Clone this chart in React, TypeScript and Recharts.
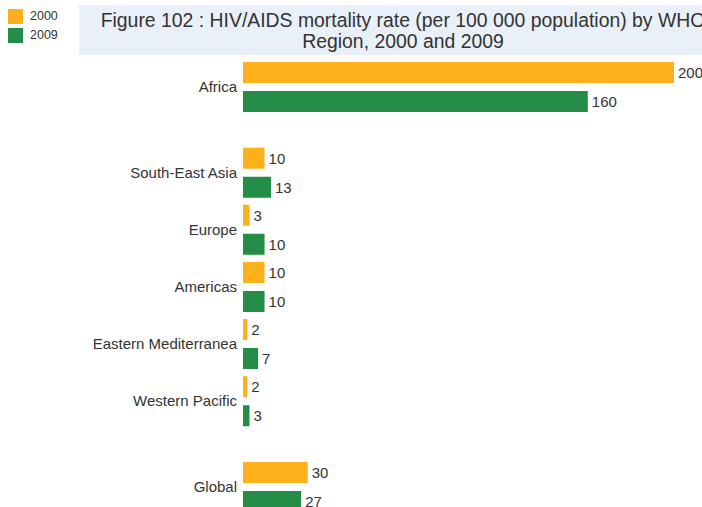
import React from "react";
import { BarChart, Bar, XAxis, YAxis, LabelList } from "recharts";

const regions = ["Africa", "South-East Asia", "Europe", "Americas", "Eastern Mediterranea", "Western Pacific", "Global"];
// group index: regions in the same group sit next to each other, groups are separated by a half-row gap
const groups = [0, 1, 1, 1, 1, 1, 2];
const values2000 = [200, 10, 3, 10, 2, 2, 30];
const values2009 = [160, 13, 10, 10, 7, 3, 27];
const seriesNames = ["2000", "2009"];
const titleLines = ["Figure 102 : HIV/AIDS mortality rate (per 100 000 population) by WHO", "Region, 2000 and 2009"];

const COLORS = ["#FBB01C", "#238D47"];
const FONT = "'Liberation Sans', Arial, sans-serif";
const TEXT = "#333333";

const data = regions.map((name, i) => ({
  name,
  pos: i + 0.5 * groups[i],
  y2000: values2000[i],
  y2009: values2009[i],
}));
const ticks = data.map((d) => d.pos);
const posToName = (p: number) => {
  const d = data.find((x) => Math.abs(x.pos - p) < 1e-6);
  return d ? d.name : "";
};

export default function App() {
  return (
    <div style={{ position: "absolute", left: 0, top: 0, width: 702, height: 507, overflow: "hidden", background: "#fff" }}>
      <div
        style={{
          position: "absolute",
          left: 79,
          top: 5,
          width: 648,
          height: 50,
          background: "#EAF0F9",
          fontFamily: FONT,
          fontSize: 19.4,
          lineHeight: "21px",
          color: TEXT,
          textAlign: "center",
          paddingTop: 5,
          boxSizing: "border-box",
          whiteSpace: "nowrap",
        }}
      >
        {titleLines.map((l) => (
          <div key={l}>{l}</div>
        ))}
      </div>
      <div style={{ position: "absolute", left: 8, top: 6.5, fontFamily: FONT, fontSize: 12.5, color: TEXT }}>
        {seriesNames.map((s, i) => (
          <div key={s} style={{ display: "flex", alignItems: "center", height: 19 }}>
            <div style={{ width: 15, height: 15, background: COLORS[i], marginRight: 7 }} />
            <span>{s}</span>
          </div>
        ))}
      </div>
      <div style={{ position: "absolute", left: 0, top: 0 }}>
        <BarChart
          width={740}
          height={530}
          data={data}
          layout="vertical"
          margin={{ top: 58, right: 66, bottom: 15, left: 83 }}
          barGap={8}
        >
          <XAxis type="number" domain={[0, 200]} hide />
          <YAxis
            type="number"
            dataKey="pos"
            scale="linear"
            domain={[-0.5, 7.5]}
            allowDataOverflow
            ticks={ticks}
            interval={0}
            width={160}
            axisLine={false}
            tickLine={false}
            tickSize={0}
            tickMargin={6}
            tickFormatter={posToName}
            tick={{ fill: TEXT, fontSize: 15, fontFamily: FONT }}
          />
          <Bar dataKey="y2000" name={seriesNames[0]} fill={COLORS[0]} barSize={21} isAnimationActive={false}>
            <LabelList dataKey="y2000" position="right" offset={4} fill={TEXT} fontSize={15} fontFamily={FONT} />
          </Bar>
          <Bar dataKey="y2009" name={seriesNames[1]} fill={COLORS[1]} barSize={21} isAnimationActive={false}>
            <LabelList dataKey="y2009" position="right" offset={4} fill={TEXT} fontSize={15} fontFamily={FONT} />
          </Bar>
        </BarChart>
      </div>
    </div>
  );
}
